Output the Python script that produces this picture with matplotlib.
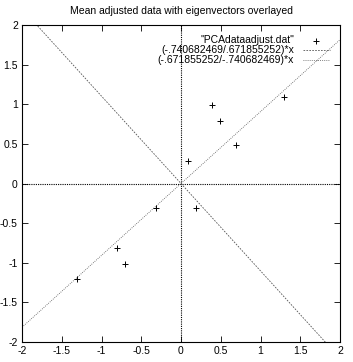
import numpy as np
import matplotlib

matplotlib.use("Agg")
import matplotlib.pyplot as plt

# mean-adjusted data points
x_adj = [0.69, -1.31, 0.39, 0.09, 1.29, 0.49, 0.19, -0.81, -0.31, -0.71]
y_adj = [0.49, -1.21, 0.99, 0.29, 1.09, 0.79, -0.31, -0.81, -0.31, -1.01]

# eigenvector slopes
slope_1 = -0.740682469 / 0.671855252
slope_2 = -0.671855252 / -0.740682469
labels = [
    '"PCAdataadjust.dat"',
    "(-.740682469/.671855252)*x",
    "(-.671855252/-.740682469)*x",
]
ticks = [-2, -1.5, -1, -0.5, 0, 0.5, 1, 1.5, 2]
tick_labels = ["-2", "-1.5", "-1", "-0.5", "0", "0.5", "1", "1.5", "2"]

plt.rcParams["font.family"] = ["Liberation Sans", "DejaVu Sans"]

fig = plt.figure(figsize=(3.53, 3.62), dpi=100)
ax = fig.add_axes([22 / 353, 20 / 362, 318 / 353, 317 / 362])

# zero axes
ax.axhline(0, color="black", linestyle=(0, (1, 1)), linewidth=0.8, zorder=1)
ax.axvline(0, color="black", linestyle=(0, (1, 1)), linewidth=0.8, zorder=1)

xs = np.linspace(-2, 2, 200)
ax.scatter(x_adj, y_adj, marker="+", c="black", s=18, linewidths=0.7,
           label=labels[0], zorder=3)
ax.plot(xs, slope_1 * xs, color="#555555", linestyle=(0, (2, 1.5)),
        linewidth=0.6, label=labels[1], zorder=2)
ax.plot(xs, slope_2 * xs, color="#555555", linestyle=(0, (1, 1.5)),
        linewidth=0.6, label=labels[2], zorder=2)

ax.set_xlim(-2, 2)
ax.set_ylim(-2, 2)
ax.set_xticks(ticks)
ax.set_xticklabels(tick_labels)
ax.set_yticks(ticks)
ax.set_yticklabels(tick_labels)
ax.tick_params(direction="in", top=True, right=True, labelsize=7.5,
               length=4, width=0.6, pad=3)
for sp in ax.spines.values():
    sp.set_linewidth(0.8)

ax.set_title("Mean adjusted data with eigenvectors overlayed", fontsize=7.5, pad=8)

leg = ax.legend(loc="upper right", fontsize=7.5, frameon=False, markerfirst=False,
                handlelength=2.6, handletextpad=0.8, labelspacing=0.0,
                borderaxespad=0.6)
for t in leg.get_texts():
    t.set_ha("right")

fig.savefig("out.png", dpi=100)
